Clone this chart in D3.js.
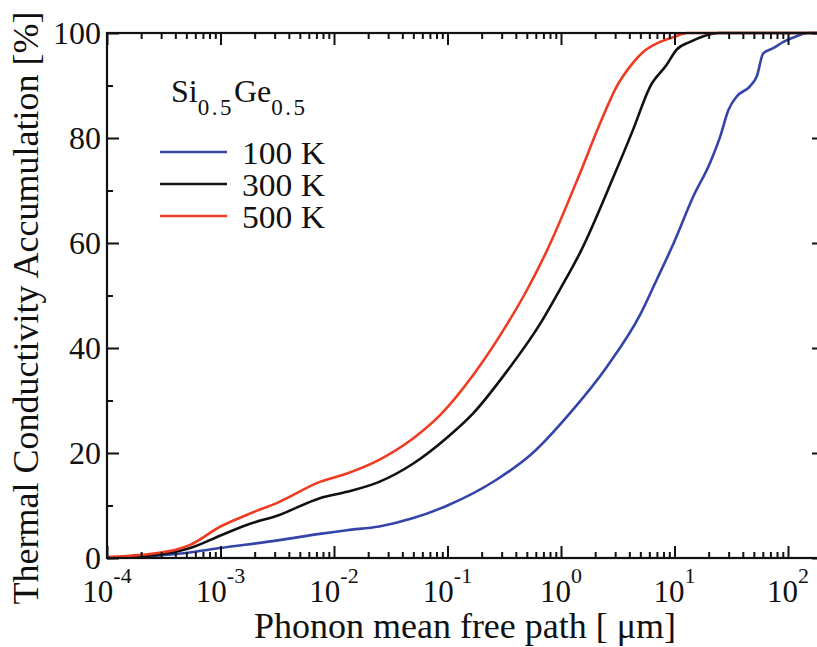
<!DOCTYPE html>
<html><head><meta charset="utf-8">
<script src="https://cdn.jsdelivr.net/npm/d3@7"></script>
<style>html,body{margin:0;padding:0;background:#fff;} svg{display:block;overflow:hidden;}</style>
</head><body>
<svg id="chart" width="817" height="647"></svg>
<script>
// ---- data (phonon mean free path in µm, accumulation in %) ----
const seriesNames = ["100 K", "300 K", "500 K"];
const seriesColors = ["#3444a8", "#111111", "#ee3b22"];

const mfp100 = [1e-4, 2e-4, 4.7e-4, 1e-3, 3.3e-3, 7.5e-3, 1.3e-2, 2.5e-2, 5e-2, 0.1, 0.27, 0.55, 1.2, 2.53, 4.97, 6.97, 9.8, 14.6, 20.5, 25.2, 29.8, 35.3, 46, 53, 60.5, 74, 91, 119, 150, 220];
const acc100 = [0, 0.25, 0.9, 1.9, 3.4, 4.6, 5.3, 6.0, 7.6, 10.0, 14.9, 19.8, 27.6, 36.4, 46.3, 53.0, 59.9, 68.8, 75.2, 80.2, 85.3, 87.9, 89.8, 91.7, 96.1, 97.1, 98.3, 99.4, 100, 100];

const mfp300 = [1e-4, 2e-4, 4.4e-4, 5.4e-4, 1e-3, 1.7e-3, 3.3e-3, 7.5e-3, 1.3e-2, 2.5e-2, 0.05, 0.1, 0.169, 0.332, 0.65, 1.0, 1.5, 2.9, 4.3, 6.1, 8.5, 10.4, 13.7, 18, 25, 220];
const acc300 = [0, 0.3, 1.4, 1.9, 4.3, 6.3, 8.2, 11.4, 12.6, 14.5, 18.0, 23.0, 27.6, 35.5, 44.5, 51.5, 58.5, 72.6, 81.5, 89.8, 93.9, 96.8, 98.3, 99.4, 100, 100];

const mfp500 = [1e-4, 2e-4, 4.4e-4, 5.4e-4, 1e-3, 1.7e-3, 3.3e-3, 7.5e-3, 1.3e-2, 2.5e-2, 0.05, 0.086, 0.169, 0.332, 0.5, 0.75, 1.47, 2.21, 3.09, 4.05, 5.3, 7.45, 9.7, 13, 220];
const acc500 = [0.2, 0.6, 1.8, 2.5, 6.0, 8.2, 10.7, 14.5, 16.1, 18.7, 22.8, 27.2, 34.9, 44.4, 51.0, 58.5, 73.3, 82.8, 89.8, 93.6, 96.4, 98.3, 99.2, 100, 100];

const xMajorExp = [-4, -3, -2, -1, 0, 1, 2];
const yMajorTicks = [0, 20, 40, 60, 80, 100];
const yMinorTicks = [10, 30, 50, 70, 90];

const legendTitleParts = [["Si", false], ["0.5", true], ["Ge", false], ["0.5", true]];
const xTitle = "Phonon mean free path [ \u03bcm]";
const yTitle = "Thermal Conductivity Accumulation [%]";

// ---- layout ----
const svg = d3.select("#chart");
const L = 107, R = 824, T = 33, B = 558;
const font = "'Liberation Serif','Times New Roman',serif";

const x = d3.scaleLog().domain([1e-4, Math.pow(10, -4 + (R - L) / 113.5)]).range([L, R]);
const y = d3.scaleLinear().domain([0, 100]).range([B, T]);

// curves
const series = [
  {x: mfp100, y: acc100},
  {x: mfp300, y: acc300},
  {x: mfp500, y: acc500}
];
const line = d3.line().x(d => x(d[0])).y(d => y(d[1])).curve(d3.curveMonotoneX);
series.forEach((s, i) => {
  const pts = s.x.map((v, j) => [v, s.y[j]]);
  svg.append("path").attr("d", line(pts)).attr("fill", "none")
    .attr("stroke", seriesColors[i]).attr("stroke-width", 2.6).attr("stroke-linejoin", "round");
});

// ticks
const xMinor = [];
for (let e = -4; e <= 2; e++) for (let m = 2; m <= 9; m++) { const v = m * Math.pow(10, e); if (x(v) <= R) xMinor.push(v); }
const majorLen = 12, minorLen = 6;
const xMajorVals = xMajorExp.map(e => Math.pow(10, e));

const axBottom = d3.axisBottom(x).tickValues(xMajorVals).tickSize(-majorLen).tickFormat("");
const axBottomMinor = d3.axisBottom(x).tickValues(xMinor).tickSize(-minorLen).tickFormat("");
const axTop = d3.axisTop(x).tickValues(xMajorVals).tickSize(-majorLen).tickFormat("");
const axTopMinor = d3.axisTop(x).tickValues(xMinor).tickSize(-minorLen).tickFormat("");
const axLeft = d3.axisLeft(y).tickValues(yMajorTicks).tickSize(-majorLen).tickFormat("");
const axLeftMinor = d3.axisLeft(y).tickValues(yMinorTicks).tickSize(-minorLen).tickFormat("");
const axRight = d3.axisRight(y).tickValues(yMajorTicks).tickSize(-majorLen).tickFormat("");
const axRightMinor = d3.axisRight(y).tickValues(yMinorTicks).tickSize(-minorLen).tickFormat("");

function styleAxis(g) {
  g.selectAll(".domain").remove();
  g.selectAll("line").attr("stroke", "#111").attr("stroke-width", 2);
}
svg.append("g").attr("transform", `translate(0,${B})`).call(axBottom).call(styleAxis);
svg.append("g").attr("transform", `translate(0,${B})`).call(axBottomMinor).call(styleAxis);
svg.append("g").attr("transform", `translate(0,${T})`).call(axTop).call(styleAxis);
svg.append("g").attr("transform", `translate(0,${T})`).call(axTopMinor).call(styleAxis);
svg.append("g").attr("transform", `translate(${L},0)`).call(axLeft).call(styleAxis);
svg.append("g").attr("transform", `translate(${L},0)`).call(axLeftMinor).call(styleAxis);
svg.append("g").attr("transform", `translate(${R},0)`).call(axRight).call(styleAxis);
svg.append("g").attr("transform", `translate(${R},0)`).call(axRightMinor).call(styleAxis);

// frame
svg.append("rect").attr("x", L).attr("y", T).attr("width", R - L).attr("height", B - T)
  .attr("fill", "none").attr("stroke", "#111").attr("stroke-width", 2.2);

// y tick labels
svg.append("g").selectAll("text").data(yMajorTicks).join("text")
  .attr("x", L - 6).attr("y", d => y(d)).attr("dy", "0.35em")
  .attr("text-anchor", "end").attr("font-family", font).attr("font-size", 32).attr("fill", "#111")
  .text(d => d);

// x tick labels with superscripts
const xl = svg.append("g").selectAll("text").data(xMajorExp).join("text")
  .attr("x", d => x(Math.pow(10, d))).attr("y", 602)
  .attr("text-anchor", "middle").attr("font-family", font).attr("font-size", 31).attr("fill", "#111");
xl.append("tspan").text("10");
xl.append("tspan").attr("dy", -19).attr("font-size", 22).text(d => String(d));

// axis titles
svg.append("text").attr("x", 465).attr("y", 638).attr("text-anchor", "middle")
  .attr("font-family", font).attr("font-size", 36).attr("fill", "#111").text(xTitle);
svg.append("text").attr("transform", "translate(38,308) rotate(-90)").attr("text-anchor", "middle")
  .attr("font-family", font).attr("font-size", 36).attr("fill", "#111").text(yTitle);

// legend title Si0.5Ge0.5
const lt = svg.append("text").attr("x", 171).attr("y", 102).attr("font-family", font)
  .attr("font-size", 32).attr("fill", "#111");
legendTitleParts.forEach(([t, sub], i) => {
  const ts = lt.append("tspan").text(t);
  if (sub) ts.attr("dy", 13).attr("font-size", 23).attr("letter-spacing", 2.5);
  else if (i > 0) ts.attr("dy", -13);
});

const legY = [152, 184, 216];
seriesNames.forEach((n, i) => {
  svg.append("line").attr("x1", 160).attr("x2", 227).attr("y1", legY[i]).attr("y2", legY[i])
    .attr("stroke", seriesColors[i]).attr("stroke-width", 2.4);
  svg.append("text").attr("x", 242).attr("y", legY[i] + 12).attr("font-family", font)
    .attr("font-size", 31).attr("textLength", 83).attr("lengthAdjust", "spacingAndGlyphs")
    .attr("fill", "#111").text(n);
});
</script>
</body></html>
